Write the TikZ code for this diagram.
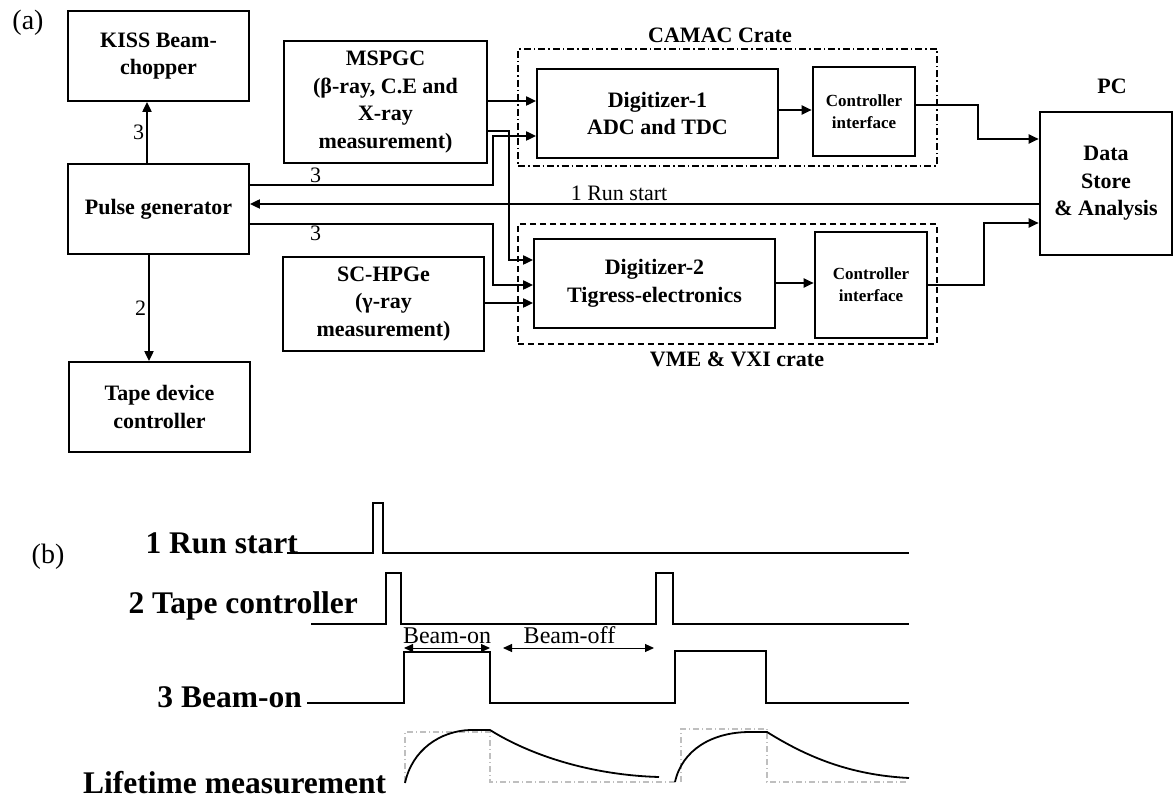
\documentclass[tikz,border=0pt]{standalone}
\usepackage{fontspec}
\setmainfont{Liberation Serif}
\usetikzlibrary{arrows.meta, positioning}

\begin{document}
\begin{tikzpicture}[
    x=1pt, y=-1pt,
    box/.style={rectangle, draw, line width=1.8pt, inner sep=2pt, align=center,
        font=\fontsize{22}{27.5}\selectfont\bfseries},
    ctrl/.style={box, line width=2.6pt, font=\fontsize{17}{22}\selectfont\bfseries},
    crate/.style={rectangle, draw, line width=1.4pt, inner sep=0pt},
    title/.style={inner sep=0pt, font=\fontsize{22}{26}\selectfont\bfseries},
    num/.style={inner sep=2pt, font=\fontsize{22}{24}\selectfont},
    tag/.style={inner sep=0pt, font=\fontsize{28}{30}\selectfont},
    conn/.style={-{Triangle[length=10pt, width=9pt]}, line width=2pt},
    sig/.style={line width=1.8pt},
    siglbl/.style={inner sep=0pt, anchor=base east, font=\fontsize{31.5}{34}\selectfont\bfseries},
    span/.style={{Triangle[length=9pt, width=8pt]}-{Triangle[length=9pt, width=8pt]}, line width=1pt},
    spanlbl/.style={inner sep=0pt, font=\fontsize{24}{26}\selectfont},
    guide/.style={gray!50, line width=1.2pt, dash pattern=on 6pt off 3pt on 1pt off 3pt}
]
    \useasboundingbox (0,0) rectangle (1175,799);

    % Part labels
    \node[tag] (taga) at (28,23) {(a)};
    \node[tag] (tagb) at (48,557) {(b)};

    % Crates
    \node[crate, dash pattern=on 7pt off 3pt on 1.5pt off 3pt,
        minimum width=419pt, minimum height=117pt] (camac) at (727.5,107.5) {};
    \node[crate, dash pattern=on 6pt off 4pt,
        minimum width=419pt, minimum height=120pt] (vme) at (727.5,284) {};
    \node[title, above=5.5pt of camac, xshift=-7.5pt] (camaclbl) {CAMAC Crate};
    \node[title, below=7pt of vme, xshift=9.5pt] (vmelbl) {VME \& VXI crate};

    % Boxes
    \node[box, minimum width=181pt, minimum height=90pt] (kiss) at (158.5,56) {KISS Beam-\\chopper};
    \node[box, minimum width=181pt, minimum height=90pt] (pulse) at (158.5,209) {Pulse generator};
    \node[box, minimum width=181pt, minimum height=90pt] (tape) at (159.5,407) {Tape device\\controller};
    \node[box, minimum width=203pt, minimum height=122pt] (mspgc) at (385.5,102)
        {MSPGC\\(β-ray, C.E and\\X-ray\\measurement)};
    \node[box, minimum width=201pt, minimum height=94pt] (hpge) at (383.5,304)
        {SC-HPGe\\(γ-ray\\measurement)};
    \node[box, minimum width=241pt, minimum height=89pt] (dig1) at (657.5,113.5) {Digitizer-1\\ADC and TDC};
    \node[ctrl, minimum width=102pt, minimum height=89pt] (ctrl1) at (864,111.5) {Controller\\interface};
    \node[box, minimum width=241pt, minimum height=89pt] (dig2) at (654.5,283.5) {Digitizer-2\\Tigress-electronics};
    \node[ctrl, minimum width=112pt, minimum height=106pt] (ctrl2) at (871,285) {Controller\\interface};
    \node[box, line width=2.6pt, minimum width=132pt, minimum height=143pt] (pc) at (1106,183.5)
        {Data\\Store\\\& Analysis};
    \node[title, above=17pt of pc, xshift=6pt] (pclbl) {PC};

    % Input points of the digitizers
    \coordinate (d1a) at ([yshift=12.5pt]dig1.west);
    \coordinate (d1b) at ([yshift=-22.5pt]dig1.west);
    \coordinate (d2a) at ([yshift=23.5pt]dig2.west);
    \coordinate (d2b) at ([yshift=-1.5pt]dig2.west);
    \coordinate (d2c) at ([yshift=-19.5pt]dig2.west);

    % Pulse generator outputs
    \draw[conn] ([xshift=-11.5pt]pulse.north) -- node[num, left] {3} ([xshift=-11.5pt]kiss.south);
    \draw[conn] ([xshift=-9.5pt]pulse.south) -- node[num, left] {2} ([xshift=-10.5pt]tape.north);
    \draw[conn] ([yshift=24pt]pulse.east) -- node[num, pos=0.27, above, inner sep=1pt] {3} ++(243,0) |- (d1b);
    \draw[conn] ([yshift=-15pt]pulse.east) -- node[num, pos=0.27, below, inner sep=1pt] {3} ++(243,0) |- (d2b);

    % Run start
    \draw[conn] ([yshift=-20.5pt]pc.west) -- node[num, pos=0.532, above] {1 Run start} ([yshift=5pt]pulse.east);

    % Detector signals
    \draw[conn] (d1a -| mspgc.east) -- (d1a);
    \draw[conn] ([yshift=-29pt]mspgc.east) -- ++(21,0) |- (d2a);
    \draw[conn] (d2c -| hpge.east) -- (d2c);

    % Digitizers to controllers to PC
    \draw[conn] ([yshift=3.5pt]dig1.east) -- ([yshift=1.5pt]ctrl1.west);
    \draw[conn] ([yshift=0.5pt]dig2.east) -- ([yshift=2pt]ctrl2.west);
    \draw[conn] ([yshift=6.5pt]ctrl1.east) -- ++(62,0) |- ([yshift=44.5pt]pc.west);
    \draw[conn] (ctrl2.east) -- ++(56,0) |- ([yshift=-39.5pt]pc.west);

    % Timing diagram
    \node[siglbl] (runlbl) at (298,553) {1 Run start};
    \node[siglbl] (tapelbl) at (358,613) {2 Tape controller};
    \node[siglbl] (beamlbl) at (302,707) {3 Beam-on};
    \node[siglbl, anchor=base west] (lifelbl) at (83,793) {Lifetime measurement};

    \draw[sig] (287,553) -- (373,553) -- (373,503) -- (383,503) -- (383,553) -- (909,553);
    \draw[sig] (311,624) -- (386,624) -- (386,573) -- (401,573) -- (401,624) -- (656,624)
        -- (656,573) -- (673,573) -- (673,624) -- (909,624);
    \draw[sig] (307,703) -- (404,703) -- (404,652) -- (490,652) -- (490,703) -- (675,703)
        -- (675,651) -- (766,651) -- (766,703) -- (909,703);

    \draw[span] (404,648) -- node[spanlbl, above=4pt] {Beam-on} (490,648);
    \draw[span] (503,648) -- node[spanlbl, above=4pt, xshift=-9pt] {Beam-off} (654,648);

    % Lifetime curves
    \draw[guide] (405,782) -- (405,732) -- (490,732) -- (490,782) -- (675,782);
    \draw[guide] (681,782) -- (681,729) -- (767,729) -- (767,782) -- (909,782);
    \draw[sig] (405,783) .. controls (412,750) and (440,731) .. (470,730) -- (490,730)
        .. controls (530,755) and (590,775) .. (659,777);
    \draw[sig] (675,782) .. controls (682,750) and (712,732) .. (750,732) -- (767,732)
        .. controls (807,757) and (850,775) .. (909,778);
\end{tikzpicture}
\end{document}
